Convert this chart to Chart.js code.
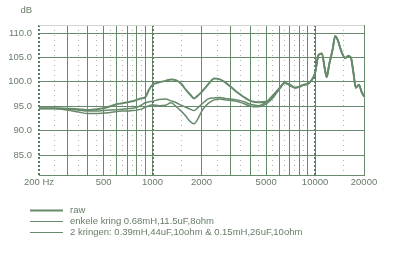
<!DOCTYPE html>
<html>
<head>
<meta charset="utf-8">
<script src="https://cdn.jsdelivr.net/npm/chart.js@4/dist/chart.umd.min.js"></script>
<style>
  body { margin: 0; background: #fff; }
  canvas { display: block; }
</style>
</head>
<body>
<canvas id="chart" width="400" height="272"></canvas>
<script>
// frequency points (Hz) shared by all three curves
var freqs = [200, 250, 300, 350, 400, 450, 500, 550, 600, 650, 700, 750, 800, 850, 900, 950,
  1000, 1100, 1200, 1300, 1400, 1500, 1600, 1700, 1800, 1900,
  2000, 2100, 2200, 2400, 2600, 2800, 3000,
  3300, 3600, 4000, 4500, 5000, 5500,
  6000, 6500, 7000, 7500, 8000, 8500, 9000, 9500,
  10000, 10500, 11000, 11500, 11800, 12200, 12800, 13300, 13800, 14600, 15300, 16000, 16600, 17200, 17800, 18600, 19300, 20000];

// measured levels (dB)
var rawDb = [94.6, 94.6, 94.5, 94.4, 94.2, 94.4, 94.6, 95.0, 95.4, 95.6, 95.8, 96.0, 96.3, 96.6, 96.8, 98.4,
  99.4, 99.9, 100.2, 100.5, 100.3, 99.6, 98.4, 97.4, 96.6, 97.2,
  97.9, 98.7, 99.5, 100.7, 100.5, 99.9, 99.1,
  97.9, 97.0, 96.1, 95.8, 95.9, 97.2,
  98.6, 99.8, 99.4, 98.8, 99.0, 99.4, 99.6, 100.3,
  101.8, 105.5, 105.8, 102.5, 101.0, 103.5, 106.5, 109.4, 108.5, 106.0, 104.9, 105.3, 105.0, 102.0, 98.8, 99.4, 98.0, 97.0];

var enkeleDb = [94.6, 94.6, 94.4, 94.2, 94.0, 94.0, 94.1, 94.2, 94.3, 94.4, 94.5, 94.6, 94.8, 95.2, 95.7, 95.9,
  96.0, 96.4, 96.5, 96.1, 95.7, 95.2, 94.8, 94.4, 94.1, 94.7,
  95.4, 96.0, 96.5, 96.7, 96.8, 96.6, 96.5,
  96.3, 96.0, 95.4, 95.1, 95.8, 96.9,
  98.5, 99.7, 99.3, 98.8, 99.0, 99.4, 99.6, 100.3,
  101.8, 105.5, 105.8, 102.5, 101.0, 103.5, 106.5, 109.4, 108.5, 106.0, 104.9, 105.3, 105.0, 102.0, 98.8, 99.4, 98.0, 97.0];

var tweeDb = [94.5, 94.5, 94.2, 93.8, 93.5, 93.5, 93.6, 93.7, 93.9, 94.0, 94.0, 94.1, 94.2, 94.4, 94.8, 95.1,
  95.3, 95.1, 95.2, 95.7, 94.9, 94.0, 93.0, 91.9, 91.4, 92.4,
  93.9, 94.9, 95.6, 96.3, 96.5, 96.3, 96.2,
  96.0, 95.6, 95.0, 94.9, 95.5, 96.7,
  98.4, 99.7, 99.3, 98.8, 99.0, 99.4, 99.6, 100.3,
  101.8, 105.5, 105.8, 102.5, 101.0, 103.5, 106.5, 109.4, 108.5, 106.0, 104.9, 105.3, 105.0, 102.0, 98.8, 99.4, 98.0, 97.0];

var seriesLabels = ['raw', 'enkele kring 0.68mH,11.5uF,8ohm', '2 kringen: 0.39mH,44uF,10ohm & 0.15mH,26uF,10ohm'];

// axis ticks
var yTicks = [85, 90, 95, 100, 105, 110];
var xMajorTicks = [200, 300, 400, 500, 600, 700, 800, 900, 1000, 2000, 3000, 4000, 5000, 6000, 7000, 8000, 9000, 10000, 20000];
var xMinorTicks = [200, 250, 350, 450, 550, 650, 750, 850, 1000, 1500, 2500, 3500, 4500, 5500, 6500, 7500, 8500, 10000, 15000];
var xLabels = { 200: '200 Hz', 500: '500', 1000: '1000', 2000: '2000', 5000: '5000', 10000: '10000', 20000: '20000' };

var green = '#688a6c';
var textColor = '#687c68';
var fontSpec = { family: 'Liberation Sans, Arial, sans-serif', size: 9.5 };
var Y_MIN = 80.9, Y_MAX = 111.65;

function points(values) {
  return freqs.map((f, i) => ({ x: f, y: values[i] }));
}

function isDecade(c) {
  const v = c.tick && c.tick.value;
  return v === 200 || v === 1000 || v === 10000;
}

// draws the "dB" title and the legend under the chart
var extrasPlugin = {
  id: 'extras',
  afterDraw(chart) {
    const ctx = chart.ctx;
    ctx.save();
    ctx.font = '9.5px ' + fontSpec.family;
    ctx.fillStyle = textColor;
    ctx.textAlign = 'right';
    ctx.textBaseline = 'middle';
    ctx.fillText('dB', 32, 10);

    ctx.textAlign = 'left';
    chart.data.datasets.forEach((ds, i) => {
      const y = 210 + i * 11;
      ctx.strokeStyle = ds.borderColor;
      ctx.lineWidth = i === 0 ? 2 : 1;
      ctx.beginPath();
      ctx.moveTo(30, y + 0.5);
      ctx.lineTo(63, y + 0.5);
      ctx.stroke();
      ctx.fillStyle = textColor;
      ctx.fillText(ds.label, 70, y);
    });
    ctx.restore();
  }
};

new Chart(document.getElementById('chart'), {
  type: 'line',
  data: {
    datasets: [
      { label: seriesLabels[0], data: points(rawDb), borderColor: green, borderWidth: 2 },
      { label: seriesLabels[1], data: points(enkeleDb), borderColor: green, borderWidth: 1.5 },
      { label: seriesLabels[2], data: points(tweeDb), borderColor: green, borderWidth: 1.5 }
    ]
  },
  options: {
    responsive: false,
    animation: false,
    devicePixelRatio: 1,
    layout: { padding: { left: 0, right: 36, top: 25, bottom: 77 } },
    elements: {
      point: { radius: 0 },
      line: { cubicInterpolationMode: 'monotone', fill: false }
    },
    plugins: { legend: { display: false }, tooltip: { enabled: false } },
    scales: {
      x: {
        type: 'logarithmic',
        position: 'bottom',
        min: 200,
        max: 20000,
        afterBuildTicks: (scale) => { scale.ticks = xMajorTicks.map(v => ({ value: v })); },
        afterFit: (scale) => { scale.height = 20; },
        ticks: {
          autoSkip: false,
          maxRotation: 0,
          padding: 2,
          color: textColor,
          font: fontSpec,
          callback: (v) => xLabels[v] || ''
        },
        grid: {
          drawTicks: false,
          color: (c) => c.tick && c.tick.value === 200 ? 'rgba(0,0,0,0)' : green,
          lineWidth: 1
        },
        border: { display: true, color: green, width: 1 }
      },
      xMinor: {
        type: 'logarithmic',
        position: 'bottom',
        min: 200,
        max: 20000,
        afterBuildTicks: (scale) => { scale.ticks = xMinorTicks.map(v => ({ value: v })); },
        afterFit: (scale) => { scale.height = 0; },
        ticks: { display: false },
        grid: {
          drawTicks: false,
          color: (c) => isDecade(c) ? '#5a7a5e' : '#b4b4b4',
          lineWidth: (c) => isDecade(c) ? 2 : 1
        },
        border: { display: false, dash: (c) => isDecade(c) ? [2, 2] : [1, 4] }
      },
      y: {
        min: Y_MIN,
        max: Y_MAX,
        afterBuildTicks: (scale) => {
          scale.ticks = yTicks.concat([Y_MAX]).map(v => ({ value: v }));
        },
        afterFit: (scale) => { scale.width = 39; },
        ticks: {
          padding: 7,
          color: textColor,
          font: fontSpec,
          callback: (v) => v === Y_MAX ? '' : v.toFixed(1)
        },
        grid: {
          drawTicks: false,
          color: (c) => c.tick && c.tick.value === Y_MAX ? '#d4d4d4' : green,
          lineWidth: 1
        },
        border: { display: false }
      }
    }
  },
  plugins: [extrasPlugin]
});
</script>
</body>
</html>
